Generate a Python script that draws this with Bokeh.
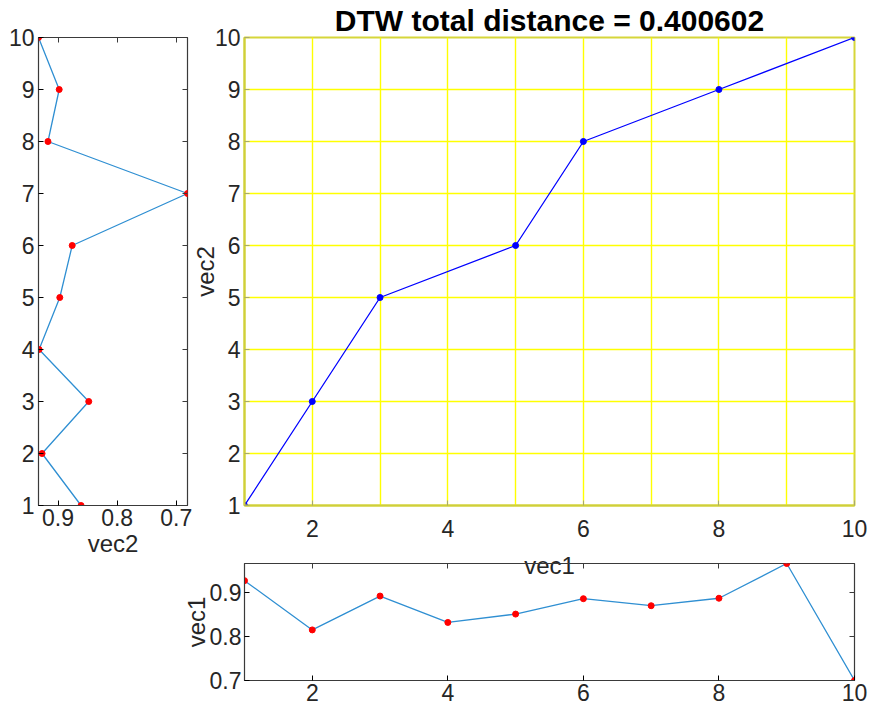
from bokeh.plotting import figure
from bokeh.layouts import row, column
from bokeh.models import Range1d, FixedTicker, LinearAxis
from bokeh.embed import file_html
from bokeh.resources import INLINE

# ---- data ----
idx = [1, 2, 3, 4, 5, 6, 7, 8, 9, 10]
vec1 = [0.927, 0.815, 0.892, 0.832, 0.851, 0.886, 0.870, 0.887, 0.966, 0.700]
vec2 = [0.861, 0.927, 0.848, 0.932, 0.897, 0.876, 0.681, 0.917, 0.898, 0.933]
path_i = [1, 2, 3, 5, 6, 8, 10]
path_j = [1, 3, 5, 6, 8, 9, 10]
title_text = "DTW total distance = 0.400602"
main_xticks = [2, 4, 6, 8, 10]
main_yticks = [1, 2, 3, 4, 5, 6, 7, 8, 9, 10]
grid_ticks = [1, 2, 3, 4, 5, 6, 7, 8, 9, 10]
side_ticks = [0.7, 0.8, 0.9]

FONT = "Liberation Sans"
TXT = "#262626"
LINE = "#2f8fd2"
BOX = "#3a3a3a"
TICK_SIZE = "23px"
LABEL_SIZE = "24px"


def style_axis(ax, standoff=5):
    ax.major_label_text_font = FONT
    ax.major_label_text_font_size = TICK_SIZE
    ax.major_label_text_color = TXT
    ax.axis_label_text_font = FONT
    ax.axis_label_text_font_style = "normal"
    ax.axis_label_text_color = TXT
    ax.axis_label_text_font_size = LABEL_SIZE
    ax.major_tick_in = 5
    ax.major_tick_out = 0
    ax.minor_tick_line_color = None
    ax.major_label_standoff = standoff


def blank_axis(ticks, color=BOX):
    ax = LinearAxis(ticker=FixedTicker(ticks=ticks))
    ax.major_label_overrides = {t: "" for t in ticks}
    ax.major_label_text_color = None
    ax.major_label_standoff = 0
    ax.axis_line_color = None
    ax.major_tick_in = 5
    ax.major_tick_out = 0
    ax.major_tick_line_color = color
    ax.minor_tick_line_color = None
    return ax


# ---- left panel (vec2, rotated) ----
left = figure(width=200, height=709, output_backend="svg", toolbar_location=None,
              x_range=Range1d(max(vec2), min(vec2)), y_range=Range1d(1, 10),
              min_border_left=38, min_border_right=13, min_border_top=37, min_border_bottom=204)
left.line(vec2, idx, line_color=LINE, line_width=1.3)
left.scatter(vec2, idx, size=6, color="red")
left.grid.visible = False
left.xaxis.ticker = FixedTicker(ticks=side_ticks)
left.yaxis.ticker = FixedTicker(ticks=main_yticks)
left.xaxis.axis_label = "vec2"
style_axis(left.xaxis[0], standoff=3)
style_axis(left.yaxis[0], standoff=4)
left.xaxis.axis_label_standoff = 1
left.xaxis.axis_line_color = BOX
left.yaxis.axis_line_color = BOX
left.outline_line_color = BOX
left.outline_line_width = 1.2
left.add_layout(blank_axis(side_ticks), "above")
left.add_layout(blank_axis(main_yticks), "right")

# ---- main panel (warping path) ----
main = figure(width=698, height=590, output_backend="svg", toolbar_location=None,
              x_range=Range1d(1, 10), y_range=Range1d(1, 10),
              min_border_left=70, min_border_right=18, min_border_top=37, min_border_bottom=85)
main.border_fill_color = None
main.title.text = title_text
main.title.align = "center"
main.title.text_font = FONT
main.title.text_font_size = "30px"
main.title.text_font_style = "bold"
main.title.text_color = "black"
main.title.standoff = 2
main.xgrid.ticker = FixedTicker(ticks=grid_ticks)
main.ygrid.ticker = FixedTicker(ticks=grid_ticks)
main.grid.grid_line_color = "#ffff00"
main.grid.grid_line_width = 1.4
main.grid.grid_line_alpha = 1.0
main.line(path_i, path_j, line_color="blue", line_width=1.3)
main.scatter(path_i, path_j, size=6, color="blue")
main.xaxis.ticker = FixedTicker(ticks=main_xticks)
main.yaxis.ticker = FixedTicker(ticks=main_yticks)
main.xaxis.axis_label = "vec1"
main.yaxis.axis_label = "vec2"
style_axis(main.xaxis[0], standoff=14)
style_axis(main.yaxis[0], standoff=4)
main.xaxis.axis_label_standoff = 12
main.yaxis.axis_label_standoff = -7
main.xaxis.axis_line_color = "#cfcf3a"
main.yaxis.axis_line_color = "#cfcf3a"
main.xaxis.axis_line_width = 2
main.yaxis.axis_line_width = 2
main.xaxis.major_tick_line_color = "#a8a870"
main.yaxis.major_tick_line_color = "#a8a870"
main.outline_line_color = "#d6d63a"
main.outline_line_width = 2
main.outline_line_alpha = 1.0

# ---- bottom panel (vec1) ----
bottom = figure(width=698, height=159, output_backend="svg", toolbar_location=None,
                x_range=Range1d(1, 10), y_range=Range1d(min(vec1), max(vec1)),
                min_border_left=70, min_border_right=18, min_border_top=13, min_border_bottom=29,
                margin=(-40, 0, 0, 0))
bottom.border_fill_color = None
bottom.background_fill_color = None
bottom.line(idx, vec1, line_color=LINE, line_width=1.3)
bottom.scatter(idx, vec1, size=6, color="red")
bottom.grid.visible = False
bottom.xaxis.ticker = FixedTicker(ticks=main_xticks)
bottom.yaxis.ticker = FixedTicker(ticks=side_ticks)
bottom.yaxis.axis_label = "vec1"
style_axis(bottom.xaxis[0], standoff=3)
style_axis(bottom.yaxis[0], standoff=3)
bottom.yaxis.axis_label_standoff = -3
bottom.xaxis.axis_line_color = BOX
bottom.yaxis.axis_line_color = BOX
bottom.outline_line_color = BOX
bottom.outline_line_width = 1.2
bottom.add_layout(blank_axis(main_xticks), "above")
bottom.add_layout(blank_axis(side_ticks), "right")

right_col = column(main, bottom, margin=(0, 0, 0, -26))
p = row(left, right_col)
open("out.html", "w").write(file_html(p, INLINE))
